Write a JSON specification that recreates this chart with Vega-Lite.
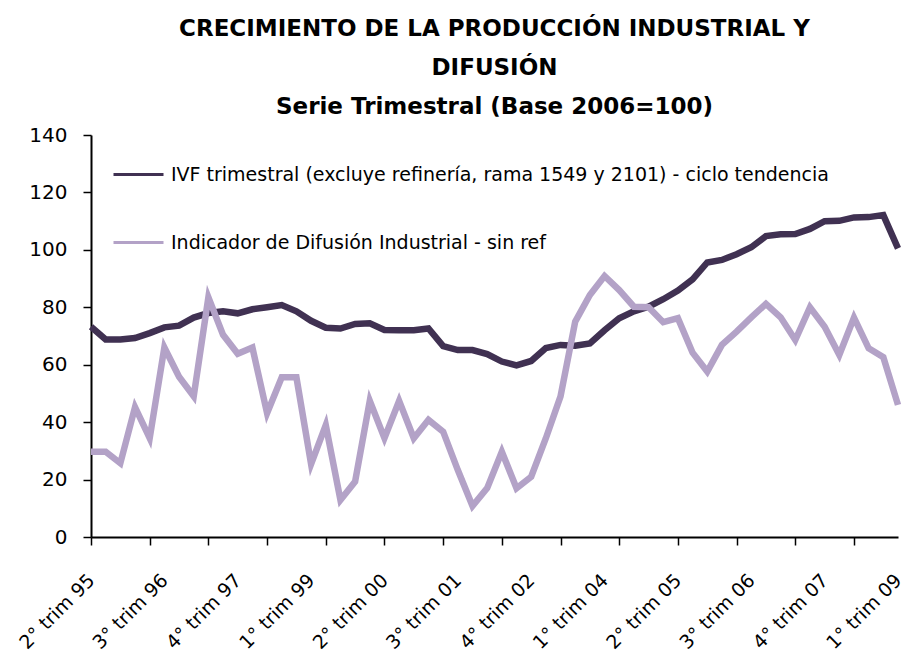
{
  "$schema": "https://vega.github.io/schema/vega-lite/v6.json",
  "width": 807,
  "height": 402,
  "autosize": "none",
  "padding": {"left": 91, "top": 135, "right": 6, "bottom": 118},
  "background": "white",
  "config": {"view": {"stroke": null}, "font": "DejaVu Sans"},
  "title": {
    "text": ["CRECIMIENTO DE LA PRODUCCIÓN INDUSTRIAL Y", "DIFUSIÓN", "Serie Trimestral (Base 2006=100)"],
    "font": "DejaVu Sans",
    "fontSize": 23,
    "fontWeight": "bold",
    "color": "black",
    "lineHeight": 39,
    "anchor": "middle",
    "offset": 6
  },
  "datasets": {
    "d": [
      {"p": "2° trim 95", "s": "IVF trimestral (excluye refinería,  rama 1549 y 2101) - ciclo tendencia", "v": 73.2},
      {"p": "3° trim 95", "s": "IVF trimestral (excluye refinería,  rama 1549 y 2101) - ciclo tendencia", "v": 68.8},
      {"p": "4° trim 95", "s": "IVF trimestral (excluye refinería,  rama 1549 y 2101) - ciclo tendencia", "v": 68.8},
      {"p": "1° trim 96", "s": "IVF trimestral (excluye refinería,  rama 1549 y 2101) - ciclo tendencia", "v": 69.3},
      {"p": "2° trim 96", "s": "IVF trimestral (excluye refinería,  rama 1549 y 2101) - ciclo tendencia", "v": 71.0},
      {"p": "3° trim 96", "s": "IVF trimestral (excluye refinería,  rama 1549 y 2101) - ciclo tendencia", "v": 73.0},
      {"p": "4° trim 96", "s": "IVF trimestral (excluye refinería,  rama 1549 y 2101) - ciclo tendencia", "v": 73.6},
      {"p": "1° trim 97", "s": "IVF trimestral (excluye refinería,  rama 1549 y 2101) - ciclo tendencia", "v": 76.4},
      {"p": "2° trim 97", "s": "IVF trimestral (excluye refinería,  rama 1549 y 2101) - ciclo tendencia", "v": 78.0},
      {"p": "3° trim 97", "s": "IVF trimestral (excluye refinería,  rama 1549 y 2101) - ciclo tendencia", "v": 78.6},
      {"p": "4° trim 97", "s": "IVF trimestral (excluye refinería,  rama 1549 y 2101) - ciclo tendencia", "v": 77.9},
      {"p": "1° trim 98", "s": "IVF trimestral (excluye refinería,  rama 1549 y 2101) - ciclo tendencia", "v": 79.3},
      {"p": "2° trim 98", "s": "IVF trimestral (excluye refinería,  rama 1549 y 2101) - ciclo tendencia", "v": 80.0},
      {"p": "3° trim 98", "s": "IVF trimestral (excluye refinería,  rama 1549 y 2101) - ciclo tendencia", "v": 80.8},
      {"p": "4° trim 98", "s": "IVF trimestral (excluye refinería,  rama 1549 y 2101) - ciclo tendencia", "v": 78.6},
      {"p": "1° trim 99", "s": "IVF trimestral (excluye refinería,  rama 1549 y 2101) - ciclo tendencia", "v": 75.3},
      {"p": "2° trim 99", "s": "IVF trimestral (excluye refinería,  rama 1549 y 2101) - ciclo tendencia", "v": 72.9},
      {"p": "3° trim 99", "s": "IVF trimestral (excluye refinería,  rama 1549 y 2101) - ciclo tendencia", "v": 72.6},
      {"p": "4° trim 99", "s": "IVF trimestral (excluye refinería,  rama 1549 y 2101) - ciclo tendencia", "v": 74.2},
      {"p": "1° trim 00", "s": "IVF trimestral (excluye refinería,  rama 1549 y 2101) - ciclo tendencia", "v": 74.4},
      {"p": "2° trim 00", "s": "IVF trimestral (excluye refinería,  rama 1549 y 2101) - ciclo tendencia", "v": 72.1},
      {"p": "3° trim 00", "s": "IVF trimestral (excluye refinería,  rama 1549 y 2101) - ciclo tendencia", "v": 72.0},
      {"p": "4° trim 00", "s": "IVF trimestral (excluye refinería,  rama 1549 y 2101) - ciclo tendencia", "v": 72.0},
      {"p": "1° trim 01", "s": "IVF trimestral (excluye refinería,  rama 1549 y 2101) - ciclo tendencia", "v": 72.6},
      {"p": "2° trim 01", "s": "IVF trimestral (excluye refinería,  rama 1549 y 2101) - ciclo tendencia", "v": 66.5},
      {"p": "3° trim 01", "s": "IVF trimestral (excluye refinería,  rama 1549 y 2101) - ciclo tendencia", "v": 65.1},
      {"p": "4° trim 01", "s": "IVF trimestral (excluye refinería,  rama 1549 y 2101) - ciclo tendencia", "v": 65.1},
      {"p": "1° trim 02", "s": "IVF trimestral (excluye refinería,  rama 1549 y 2101) - ciclo tendencia", "v": 63.7},
      {"p": "2° trim 02", "s": "IVF trimestral (excluye refinería,  rama 1549 y 2101) - ciclo tendencia", "v": 61.1},
      {"p": "3° trim 02", "s": "IVF trimestral (excluye refinería,  rama 1549 y 2101) - ciclo tendencia", "v": 59.8},
      {"p": "4° trim 02", "s": "IVF trimestral (excluye refinería,  rama 1549 y 2101) - ciclo tendencia", "v": 61.3},
      {"p": "1° trim 03", "s": "IVF trimestral (excluye refinería,  rama 1549 y 2101) - ciclo tendencia", "v": 65.8},
      {"p": "2° trim 03", "s": "IVF trimestral (excluye refinería,  rama 1549 y 2101) - ciclo tendencia", "v": 66.9},
      {"p": "3° trim 03", "s": "IVF trimestral (excluye refinería,  rama 1549 y 2101) - ciclo tendencia", "v": 66.6},
      {"p": "4° trim 03", "s": "IVF trimestral (excluye refinería,  rama 1549 y 2101) - ciclo tendencia", "v": 67.4},
      {"p": "1° trim 04", "s": "IVF trimestral (excluye refinería,  rama 1549 y 2101) - ciclo tendencia", "v": 72.0},
      {"p": "2° trim 04", "s": "IVF trimestral (excluye refinería,  rama 1549 y 2101) - ciclo tendencia", "v": 76.2},
      {"p": "3° trim 04", "s": "IVF trimestral (excluye refinería,  rama 1549 y 2101) - ciclo tendencia", "v": 78.6},
      {"p": "4° trim 04", "s": "IVF trimestral (excluye refinería,  rama 1549 y 2101) - ciclo tendencia", "v": 80.2},
      {"p": "1° trim 05", "s": "IVF trimestral (excluye refinería,  rama 1549 y 2101) - ciclo tendencia", "v": 82.8},
      {"p": "2° trim 05", "s": "IVF trimestral (excluye refinería,  rama 1549 y 2101) - ciclo tendencia", "v": 85.8},
      {"p": "3° trim 05", "s": "IVF trimestral (excluye refinería,  rama 1549 y 2101) - ciclo tendencia", "v": 89.7},
      {"p": "4° trim 05", "s": "IVF trimestral (excluye refinería,  rama 1549 y 2101) - ciclo tendencia", "v": 95.6},
      {"p": "1° trim 06", "s": "IVF trimestral (excluye refinería,  rama 1549 y 2101) - ciclo tendencia", "v": 96.5},
      {"p": "2° trim 06", "s": "IVF trimestral (excluye refinería,  rama 1549 y 2101) - ciclo tendencia", "v": 98.5},
      {"p": "3° trim 06", "s": "IVF trimestral (excluye refinería,  rama 1549 y 2101) - ciclo tendencia", "v": 100.9},
      {"p": "4° trim 06", "s": "IVF trimestral (excluye refinería,  rama 1549 y 2101) - ciclo tendencia", "v": 104.8},
      {"p": "1° trim 07", "s": "IVF trimestral (excluye refinería,  rama 1549 y 2101) - ciclo tendencia", "v": 105.4},
      {"p": "2° trim 07", "s": "IVF trimestral (excluye refinería,  rama 1549 y 2101) - ciclo tendencia", "v": 105.5},
      {"p": "3° trim 07", "s": "IVF trimestral (excluye refinería,  rama 1549 y 2101) - ciclo tendencia", "v": 107.3},
      {"p": "4° trim 07", "s": "IVF trimestral (excluye refinería,  rama 1549 y 2101) - ciclo tendencia", "v": 110.0},
      {"p": "1° trim 08", "s": "IVF trimestral (excluye refinería,  rama 1549 y 2101) - ciclo tendencia", "v": 110.1},
      {"p": "2° trim 08", "s": "IVF trimestral (excluye refinería,  rama 1549 y 2101) - ciclo tendencia", "v": 111.3},
      {"p": "3° trim 08", "s": "IVF trimestral (excluye refinería,  rama 1549 y 2101) - ciclo tendencia", "v": 111.4},
      {"p": "4° trim 08", "s": "IVF trimestral (excluye refinería,  rama 1549 y 2101) - ciclo tendencia", "v": 112.1},
      {"p": "1° trim 09", "s": "IVF trimestral (excluye refinería,  rama 1549 y 2101) - ciclo tendencia", "v": 100.5},
      {"p": "2° trim 95", "s": "Indicador de Difusión Industrial - sin ref", "v": 29.7},
      {"p": "3° trim 95", "s": "Indicador de Difusión Industrial - sin ref", "v": 29.7},
      {"p": "4° trim 95", "s": "Indicador de Difusión Industrial - sin ref", "v": 25.7},
      {"p": "1° trim 96", "s": "Indicador de Difusión Industrial - sin ref", "v": 45.2},
      {"p": "2° trim 96", "s": "Indicador de Difusión Industrial - sin ref", "v": 34.4},
      {"p": "3° trim 96", "s": "Indicador de Difusión Industrial - sin ref", "v": 66.0},
      {"p": "4° trim 96", "s": "Indicador de Difusión Industrial - sin ref", "v": 55.8},
      {"p": "1° trim 97", "s": "Indicador de Difusión Industrial - sin ref", "v": 49.0},
      {"p": "2° trim 97", "s": "Indicador de Difusión Industrial - sin ref", "v": 83.5},
      {"p": "3° trim 97", "s": "Indicador de Difusión Industrial - sin ref", "v": 70.4},
      {"p": "4° trim 97", "s": "Indicador de Difusión Industrial - sin ref", "v": 63.8},
      {"p": "1° trim 98", "s": "Indicador de Difusión Industrial - sin ref", "v": 66.0},
      {"p": "2° trim 98", "s": "Indicador de Difusión Industrial - sin ref", "v": 43.1},
      {"p": "3° trim 98", "s": "Indicador de Difusión Industrial - sin ref", "v": 55.6},
      {"p": "4° trim 98", "s": "Indicador de Difusión Industrial - sin ref", "v": 55.6},
      {"p": "1° trim 99", "s": "Indicador de Difusión Industrial - sin ref", "v": 25.4},
      {"p": "2° trim 99", "s": "Indicador de Difusión Industrial - sin ref", "v": 39.0},
      {"p": "3° trim 99", "s": "Indicador de Difusión Industrial - sin ref", "v": 12.9},
      {"p": "4° trim 99", "s": "Indicador de Difusión Industrial - sin ref", "v": 19.3},
      {"p": "1° trim 00", "s": "Indicador de Difusión Industrial - sin ref", "v": 47.4},
      {"p": "2° trim 00", "s": "Indicador de Difusión Industrial - sin ref", "v": 34.4},
      {"p": "3° trim 00", "s": "Indicador de Difusión Industrial - sin ref", "v": 47.4},
      {"p": "4° trim 00", "s": "Indicador de Difusión Industrial - sin ref", "v": 34.4},
      {"p": "1° trim 01", "s": "Indicador de Difusión Industrial - sin ref", "v": 40.8},
      {"p": "2° trim 01", "s": "Indicador de Difusión Industrial - sin ref", "v": 36.7},
      {"p": "3° trim 01", "s": "Indicador de Difusión Industrial - sin ref", "v": 23.3},
      {"p": "4° trim 01", "s": "Indicador de Difusión Industrial - sin ref", "v": 10.8},
      {"p": "1° trim 02", "s": "Indicador de Difusión Industrial - sin ref", "v": 17.0},
      {"p": "2° trim 02", "s": "Indicador de Difusión Industrial - sin ref", "v": 29.7},
      {"p": "3° trim 02", "s": "Indicador de Difusión Industrial - sin ref", "v": 17.0},
      {"p": "4° trim 02", "s": "Indicador de Difusión Industrial - sin ref", "v": 21.0},
      {"p": "1° trim 03", "s": "Indicador de Difusión Industrial - sin ref", "v": 34.4},
      {"p": "2° trim 03", "s": "Indicador de Difusión Industrial - sin ref", "v": 49.0},
      {"p": "3° trim 03", "s": "Indicador de Difusión Industrial - sin ref", "v": 75.0},
      {"p": "4° trim 03", "s": "Indicador de Difusión Industrial - sin ref", "v": 84.3},
      {"p": "1° trim 04", "s": "Indicador de Difusión Industrial - sin ref", "v": 90.9},
      {"p": "2° trim 04", "s": "Indicador de Difusión Industrial - sin ref", "v": 86.0},
      {"p": "3° trim 04", "s": "Indicador de Difusión Industrial - sin ref", "v": 80.2},
      {"p": "4° trim 04", "s": "Indicador de Difusión Industrial - sin ref", "v": 80.0},
      {"p": "1° trim 05", "s": "Indicador de Difusión Industrial - sin ref", "v": 74.8},
      {"p": "2° trim 05", "s": "Indicador de Difusión Industrial - sin ref", "v": 76.2},
      {"p": "3° trim 05", "s": "Indicador de Difusión Industrial - sin ref", "v": 64.2},
      {"p": "4° trim 05", "s": "Indicador de Difusión Industrial - sin ref", "v": 57.6},
      {"p": "1° trim 06", "s": "Indicador de Difusión Industrial - sin ref", "v": 66.9},
      {"p": "2° trim 06", "s": "Indicador de Difusión Industrial - sin ref", "v": 71.5},
      {"p": "3° trim 06", "s": "Indicador de Difusión Industrial - sin ref", "v": 76.5},
      {"p": "4° trim 06", "s": "Indicador de Difusión Industrial - sin ref", "v": 81.2},
      {"p": "1° trim 07", "s": "Indicador de Difusión Industrial - sin ref", "v": 76.5},
      {"p": "2° trim 07", "s": "Indicador de Difusión Industrial - sin ref", "v": 68.6},
      {"p": "3° trim 07", "s": "Indicador de Difusión Industrial - sin ref", "v": 80.0},
      {"p": "4° trim 07", "s": "Indicador de Difusión Industrial - sin ref", "v": 73.2},
      {"p": "1° trim 08", "s": "Indicador de Difusión Industrial - sin ref", "v": 63.4},
      {"p": "2° trim 08", "s": "Indicador de Difusión Industrial - sin ref", "v": 76.4},
      {"p": "3° trim 08", "s": "Indicador de Difusión Industrial - sin ref", "v": 65.7},
      {"p": "4° trim 08", "s": "Indicador de Difusión Industrial - sin ref", "v": 62.6},
      {"p": "1° trim 09", "s": "Indicador de Difusión Industrial - sin ref", "v": 46.0}
    ]
  },
  "data": {"name": "d"},
  "layer": [
    {
      "mark": {"type": "line", "strokeWidth": 6.5},
      "encoding": {
        "x": {
          "field": "p", "type": "ordinal", "sort": null,
          "scale": {"type": "point", "padding": 0},
          "axis": {
            "title": null,
            "orient": "bottom",
            "values": ["2° trim 95", "3° trim 96", "4° trim 97", "1° trim 99", "2° trim 00", "3° trim 01", "4° trim 02", "1° trim 04", "2° trim 05", "3° trim 06", "4° trim 07", "1° trim 09"],
            "ticks": false,
            "domain": true,
            "domainColor": "black",
            "domainWidth": 2,
            "labelAngle": -45,
            "labelAlign": "right",
            "labelBaseline": "middle",
            "labelPadding": 40,
            "labelFont": "DejaVu Sans",
            "labelFontSize": 19,
            "labelColor": "black",
            "labelOverlap": false,
            "labelBound": false,
            "labelFlush": false
          }
        },
        "y": {
          "field": "v", "type": "quantitative",
          "scale": {"domain": [0, 140], "nice": false, "zero": true},
          "axis": {
            "title": null,
            "values": [0, 20, 40, 60, 80, 100, 120, 140],
            "grid": false,
            "domainColor": "black",
            "domainWidth": 2,
            "tickColor": "black",
            "tickWidth": 1.5,
            "tickSize": 8,
            "labelPadding": 16,
            "labelFont": "DejaVu Sans",
            "labelFontSize": 20,
            "labelColor": "black"
          }
        },
        "color": {
          "field": "s", "type": "nominal",
          "sort": ["IVF trimestral (excluye refinería,  rama 1549 y 2101) - ciclo tendencia", "Indicador de Difusión Industrial - sin ref"],
          "scale": {"range": ["#403152", "#B3A2C7"]},
          "legend": {
            "title": null,
            "orient": "none",
            "legendX": 21,
            "legendY": 13,
            "padding": 0,
            "symbolType": "stroke",
            "symbolSize": 2500,
            "symbolStrokeWidth": 3,
            "rowPadding": 31,
            "labelOffset": 6,
            "labelFont": "DejaVu Sans",
            "labelFontSize": 19,
            "labelColor": "black",
            "labelLimit": 900
          }
        }
      }
    },
    {
      "mark": {"type": "point", "opacity": 0},
      "encoding": {
        "x": {
          "field": "p", "type": "ordinal", "sort": null,
          "scale": {"type": "point", "padding": 0},
          "axis": {
            "title": null,
            "orient": "bottom",
            "values": ["2° trim 95", "2° trim 96", "2° trim 97", "2° trim 98", "2° trim 99", "2° trim 00", "2° trim 01", "2° trim 02", "2° trim 03", "2° trim 04", "2° trim 05", "2° trim 06", "2° trim 07", "2° trim 08"],
            "labels": false,
            "domain": false,
            "ticks": true,
            "tickColor": "black",
            "tickWidth": 1.5,
            "tickSize": 8
          }
        }
      }
    }
  ],
  "resolve": {"axis": {"x": "independent"}}
}
